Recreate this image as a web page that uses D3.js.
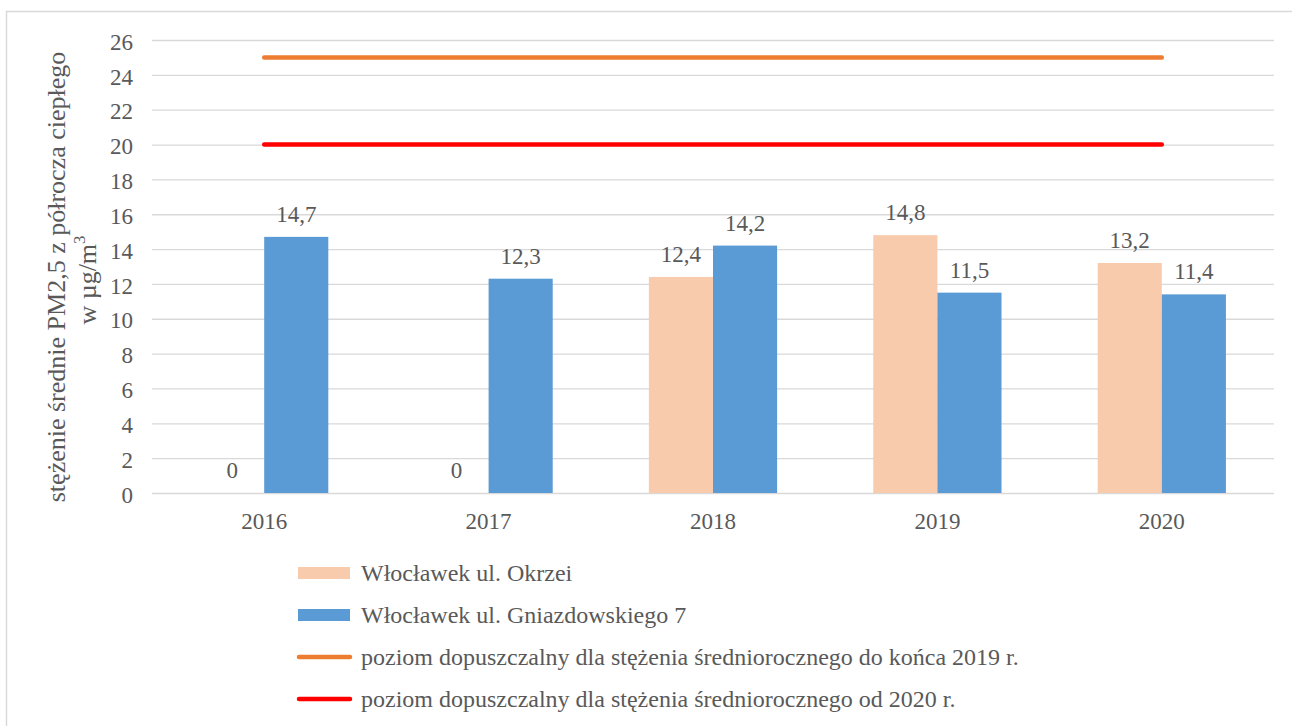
<!DOCTYPE html>
<html><head><meta charset="utf-8">
<script src="https://cdn.jsdelivr.net/npm/d3@7"></script>
<style>
html,body{margin:0;padding:0;background:#fff;}
text{font-family:"Liberation Serif","Times New Roman",serif;fill:#595959;}
</style></head>
<body>
<svg id="chart" width="1292" height="726"></svg>
<script>
const categories = ["2016","2017","2018","2019","2020"];
const seriesNames = ["Włocławek ul. Okrzei","Włocławek ul. Gniazdowskiego 7"];
const okrzei = [0, 0, 12.4, 14.8, 13.2];
const gniazdowskiego = [14.7, 12.3, 14.2, 11.5, 11.4];
const limitTo2019 = [25, 25, 25, 25, 25];
const limitFrom2020 = [20, 20, 20, 20, 20];
const lineNames = ["poziom dopuszczalny dla stężenia średniorocznego do końca 2019 r.","poziom dopuszczalny dla stężenia średniorocznego od 2020 r."];
const yTicks = [0,2,4,6,8,10,12,14,16,18,20,22,24,26];

const barColors = ["#F8CBAD","#5B9BD5"];
const lineColors = ["#ED7D31","#FF0000"];

(function(){
const svg = d3.select("#chart");
svg.append("rect").attr("x",6.5).attr("y",11.5).attr("width",1300).attr("height",730)
  .attr("fill","none").attr("stroke","#D9D9D9").attr("stroke-width",1.5);

const pL = 152, pR = 1274, pT = 40, pB = 493;
const x = d3.scaleBand().domain(categories).range([pL,pR]).padding(0);
const x1 = d3.scaleBand().domain([0,1]).range([0,x.bandwidth()]).paddingInner(0).paddingOuter(0.75);
const y = d3.scaleLinear().domain([0,26]).range([pB,pT]);

const yAxis = d3.axisLeft(y).tickValues(yTicks).tickSize(-(pR-pL)).tickPadding(19).tickFormat(d=>d);
const gy = svg.append("g").attr("transform",`translate(${pL},0)`).call(yAxis);
gy.select(".domain").remove();
gy.selectAll(".tick line").attr("stroke","#D9D9D9").attr("stroke-width",1.3);
gy.selectAll(".tick text").attr("font-size",23).attr("dy","0.4em").style("fill","#595959").attr("font-family","Liberation Serif");

const xAxis = d3.axisBottom(x).tickSize(0).tickPadding(20);
const gx = svg.append("g").attr("transform",`translate(0,${pB})`).call(xAxis);
gx.select(".domain").remove();
gx.selectAll(".tick text").attr("font-size",23).style("fill","#595959").attr("font-family","Liberation Serif");

const series = [okrzei, gniazdowskiego];
series.forEach((vals,si)=>{
  const g = svg.append("g");
  g.selectAll("rect").data(categories).join("rect")
    .attr("x",c=>x(c)+x1(si))
    .attr("y",(c,i)=>y(vals[i]))
    .attr("width",x1.bandwidth())
    .attr("height",(c,i)=>y(0)-y(vals[i]))
    .attr("fill",barColors[si]);
  g.selectAll("text").data(categories).join("text")
    .attr("x",c=>x(c)+x1(si)+x1.bandwidth()/2)
    .attr("y",(c,i)=>y(vals[i])-15)
    .attr("text-anchor","middle")
    .attr("font-size",23)
    .text((c,i)=>String(vals[i]).replace(".",","));
});

[limitTo2019, limitFrom2020].forEach((vals,li)=>{
  const line = d3.line().x((d,i)=>x(categories[i])+x.bandwidth()/2).y(d=>y(d));
  svg.append("path").datum(vals).attr("d",line)
    .attr("fill","none").attr("stroke",lineColors[li]).attr("stroke-width",4.5)
    .attr("stroke-linecap","round");
});

const ytitle = svg.append("g").attr("transform","rotate(-90)");
ytitle.append("text").attr("x",-277).attr("y",65).attr("text-anchor","middle").attr("font-size",26)
  .text("stężenie średnie PM2,5 z półrocza ciepłego");
const t2 = ytitle.append("text").attr("x",-280).attr("y",96).attr("text-anchor","middle").attr("font-size",26);
t2.append("tspan").text("w µg/m");
t2.append("tspan").attr("font-size",17).attr("dy",-11).text("3");

const legendItems = [
  {name:seriesNames[0], type:"rect", color:barColors[0]},
  {name:seriesNames[1], type:"rect", color:barColors[1]},
  {name:lineNames[0], type:"line", color:lineColors[0]},
  {name:lineNames[1], type:"line", color:lineColors[1]}
];
const lg = svg.append("g");
legendItems.forEach((it,i)=>{
  const cy = 573 + i*42;
  if(it.type==="rect"){
    lg.append("rect").attr("x",298).attr("y",cy-6).attr("width",52).attr("height",12).attr("fill",it.color);
  } else {
    lg.append("line").attr("x1",299).attr("x2",350).attr("y1",cy).attr("y2",cy)
      .attr("stroke",it.color).attr("stroke-width",4.5).attr("stroke-linecap","round");
  }
  lg.append("text").attr("x",361).attr("y",cy+8).attr("font-size",24).text(it.name);
});
})();
</script>
</body></html>
